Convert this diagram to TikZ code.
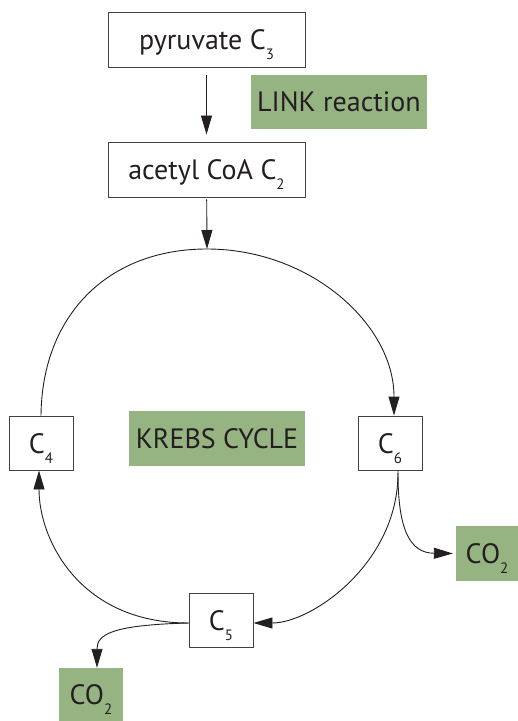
\documentclass[tikz,border=0pt]{standalone}
\usepackage{fontspec}
\setmainfont{PT Sans}
\usetikzlibrary{arrows.meta}
\definecolor{leaf}{RGB}{150,179,130}
\definecolor{ink}{RGB}{35,31,32}
\newcommand{\lowsub}[1]{\raisebox{-10bp}{\fontsize{15bp}{15bp}\selectfont #1}}
\begin{document}
\begin{tikzpicture}[x=1bp,y=-1bp,
  every node/.style={font=\fontsize{28bp}{30bp}\selectfont, text=ink, inner sep=0pt, text height=20bp, text depth=0pt},
  wbox/.style={draw=ink!85, line width=0.9bp, fill=white},
  gbox/.style={fill=leaf},
  flow/.style={draw=ink, line width=0.9bp, -{Triangle[length=19bp,width=11bp]}},
  plain/.style={draw=ink, line width=0.9bp}]
\useasboundingbox (0,0) rectangle (518,721);
\node[wbox, minimum width=197bp, minimum height=55bp] (pyr) at (206.5,39.5) {pyruvate C\lowsub{3}};
\node[gbox, minimum width=176bp, minimum height=54bp] (link) at (339,102) {LINK reaction};
\node[wbox, minimum width=197bp, minimum height=55bp] (acet) at (206.5,169.5) {acetyl CoA C\lowsub{2}};
\node[wbox, minimum width=64bp, minimum height=54bp] (c4) at (41,443) {C\lowsub{4}};
\node[gbox, minimum width=176bp, minimum height=55bp] (krebs) at (217,438.5) {KREBS CYCLE};
\node[wbox, minimum width=64bp, minimum height=54bp] (c6) at (390,443) {C\lowsub{6}};
\node[wbox, minimum width=64bp, minimum height=54bp] (c5) at (221,620) {C\lowsub{5}};
\node[gbox, minimum width=62bp, minimum height=55bp] (co2r) at (487,553.5) {CO\lowsub{2}};
\node[gbox, minimum width=64bp, minimum height=53bp] (co2l) at (91,694.5) {CO\lowsub{2}};
\coordinate (top) at (207,249);
\coordinate (c6out) at (398,473);
\draw[flow, shorten <=8bp, shorten >=7bp] (pyr) -- (acet);
\draw[flow, shorten <=2bp] (acet) -- (top);
\draw[plain] (c4.north) .. controls (42,315) and (108,249) .. (top);
\draw[flow] (top) .. controls (310,249) and (394,324) .. ([xshift=4bp]c6.north);
\draw[plain] ([xshift=8bp]c6.south) -- (c6out);
\draw[flow] (c6out) .. controls (398,563) and (312,623) .. ([yshift=-3bp]c5.east);
\draw[flow, shorten >=3bp] (c6out) .. controls (398,530) and (410,553) .. (co2r.west);
\draw[flow] ([yshift=-3bp]c5.west) .. controls (80,623) and (39,540) .. ([xshift=-2bp]c4.south);
\draw[flow] ([yshift=-3bp]c5.west) .. controls (110,625) and (97,635) .. ([xshift=6bp]co2l.north);
\end{tikzpicture}
\end{document}
